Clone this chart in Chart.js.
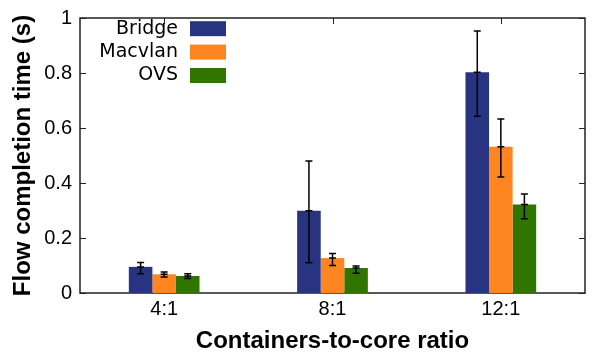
<!DOCTYPE html>
<html>
<head>
<meta charset="utf-8">
<script src="https://cdn.jsdelivr.net/npm/chart.js@4/dist/chart.umd.min.js"></script>
<style>
  html, body { margin: 0; padding: 0; background: #fff; }
  #wrap { width: 592px; height: 356px; }
</style>
</head>
<body>
<div id="wrap"><canvas id="fctChart" width="592" height="356"></canvas></div>
<script>
// values
const ratios = ['4:1', '8:1', '12:1'];
const seriesNames = ['Bridge', 'Macvlan', 'OVS'];
const bridgeMean = [0.095, 0.299, 0.803];
const macvlanMean = [0.068, 0.127, 0.532];
const ovsMean = [0.062, 0.091, 0.322];
// error bar low / high
const bridgeLow = [0.070, 0.110, 0.643];
const bridgeHigh = [0.111, 0.480, 0.953];
const macvlanLow = [0.058, 0.100, 0.422];
const macvlanHigh = [0.076, 0.144, 0.633];
const ovsLow = [0.053, 0.072, 0.270];
const ovsHigh = [0.070, 0.098, 0.360];
const yTicks = [0, 0.2, 0.4, 0.6, 0.8, 1];

const colors = ['#283480', '#ff8520', '#307500'];
const lows = [bridgeLow, macvlanLow, ovsLow];
const highs = [bridgeHigh, macvlanHigh, ovsHigh];
const means = [bridgeMean, macvlanMean, ovsMean];

const FONT = '"Liberation Sans", Arial, sans-serif';

// frame with inward ticks (gnuplot style), drawn under the bars
const framePlugin = {
    id: 'frame',
    beforeDatasetsDraw(chart) {
        const { ctx, chartArea: a, scales } = chart;
        ctx.save();
        ctx.strokeStyle = '#222';
        ctx.lineWidth = 1;
        ctx.beginPath();
        yTicks.forEach(v => {
            const y = Math.round(scales.y.getPixelForValue(v)) + 0.5;
            ctx.moveTo(a.left, y); ctx.lineTo(a.left + 6, y);
            ctx.moveTo(a.right, y); ctx.lineTo(a.right - 6, y);
        });
        ratios.forEach((r, i) => {
            const x = Math.round(scales.x.getPixelForValue(i)) + 0.5;
            ctx.moveTo(x, a.top); ctx.lineTo(x, a.top + 6);
        });
        ctx.stroke();
        ctx.lineWidth = 1.5;
        ctx.strokeRect(a.left, a.top, a.right - a.left, a.bottom - a.top);
        ctx.restore();
    }
};

// error bars + custom legend
const errorPlugin = {
    id: 'errors',
    afterDatasetsDraw(chart) {
        const { ctx, scales } = chart;
        ctx.save();
        ctx.strokeStyle = '#000';
        ctx.lineWidth = 1.5;
        chart.data.datasets.forEach((ds, d) => {
            const meta = chart.getDatasetMeta(d);
            meta.data.forEach((bar, i) => {
                const x = bar.x;
                const yl = scales.y.getPixelForValue(lows[d][i]);
                const yh = scales.y.getPixelForValue(highs[d][i]);
                const ym = scales.y.getPixelForValue(means[d][i]);
                ctx.beginPath();
                ctx.moveTo(x, yl); ctx.lineTo(x, yh);
                ctx.moveTo(x - 3.5, yl); ctx.lineTo(x + 3.5, yl);
                ctx.moveTo(x - 3.5, yh); ctx.lineTo(x + 3.5, yh);
                ctx.moveTo(x - 3.5, ym); ctx.lineTo(x + 3.5, ym);
                ctx.stroke();
            });
        });

        // legend: label text, then colour box
        ctx.font = '19px "DejaVu Sans", sans-serif';
        ctx.textAlign = 'right';
        ctx.textBaseline = 'middle';
        ctx.fillStyle = '#000';
        seriesNames.forEach((name, k) => {
            const yc = 28.7 + k * 23.4;
            ctx.fillText(name, 178, yc);
            ctx.fillStyle = colors[k];
            ctx.fillRect(190, yc - 7.5, 36, 15);
            ctx.fillStyle = '#000';
        });
        ctx.restore();
    }
};

new Chart(document.getElementById('fctChart'), {
    type: 'bar',
    data: {
        labels: ratios,
        datasets: seriesNames.map((name, k) => ({
            label: name,
            data: means[k],
            backgroundColor: colors[k],
            borderWidth: 0,
            categoryPercentage: 0.42,
            barPercentage: 1
        }))
    },
    options: {
        responsive: false,
        animation: false,
        devicePixelRatio: 1,
        layout: { padding: { left: 0, right: 7, top: 0, bottom: 0 } },
        plugins: {
            legend: { display: false },
            tooltip: { enabled: false }
        },
        scales: {
            x: {
                grid: { display: false, drawTicks: false },
                border: { display: false },
                ticks: { color: '#000', font: { family: FONT, size: 20, lineHeight: 1 }, padding: 6 },
                title: {
                    display: true,
                    text: 'Containers-to-core ratio',
                    color: '#000',
                    font: { family: FONT, size: 24, weight: 'bold' },
                    padding: { top: 2, bottom: 0 }
                },
                afterFit(scale) { scale.height = 63; }
            },
            y: {
                min: 0,
                max: 1,
                afterBuildTicks(scale) { scale.ticks = yTicks.map(v => ({ value: v })); },
                grid: { display: false, drawTicks: false },
                border: { display: false },
                ticks: {
                    color: '#000',
                    font: { family: FONT, size: 20, lineHeight: 1 },
                    padding: 8,
                    callback: v => String(v)
                },
                title: {
                    display: true,
                    text: 'Flow completion time (s)',
                    color: '#000',
                    font: { family: FONT, size: 24, weight: 'bold' },
                    padding: { top: 9, bottom: 0 }
                },
                afterFit(scale) { scale.width = 80; }
            }
        }
    },
    plugins: [framePlugin, errorPlugin]
});
</script>
</body>
</html>
